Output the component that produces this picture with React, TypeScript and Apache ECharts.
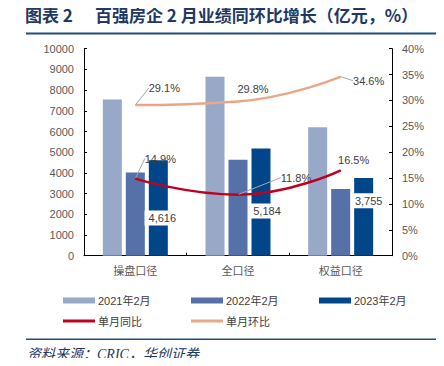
import React, { useEffect, useRef } from "react";
import * as echarts from "echarts";

const categories = ["操盘口径", "全口径", "权益口径"];
const sales2021 = [7550, 8650, 6200];
const sales2022 = [4017, 4637, 3223];
const sales2023 = [4616, 5184, 3755];
const yoy = [14.9, 11.8, 16.5];
const mom = [29.1, 29.8, 34.6];
const leftTicks = [0, 10000, 1000];
const rightTicks = [0, 40, 5];

const yoyLabelShift = [[25, -20], [58, -17], [13, -10]];
const yoyLeader = [true, true, false];
const momLabelShift = [[29, -17], [15, -12], [28, 4]];
const momLeader = [true, false, true];
const barLabelShift = [[4, 10], [6, 9], [5, -16]];

const C2021 = "#98A8C8";
const C2022 = "#5670A8";
const C2023 = "#02468A";
const CRED = "#C0001F";
const CPEACH = "#E8A888";
const NAVY = "#1F3864";

export default function App() {
  const ref = useRef<HTMLDivElement>(null);
  useEffect(() => {
    if (!ref.current) return;
    const chart = echarts.init(ref.current, undefined, { renderer: "svg" });
    const sans = "'Liberation Sans', Arial, sans-serif";
    const cjk = "'Noto Sans CJK SC', sans-serif";
    const legendBase = {
      orient: "horizontal",
      padding: 0,
      itemWidth: 32,
      itemGap: 0,
      textStyle: { fontSize: 11, color: "#404040", fontFamily: sans + ", 'Noto Sans CJK SC'", padding: [0, 0, 0, -2] },
      icon: "rect",
    };
    const lineLabel = {
      show: true,
      position: "inside",
      formatter: (p: any) => p.value.toFixed(1) + "%",
      fontSize: 11,
      color: "#404040",
      fontFamily: sans,
    };
    const titleFont = "bold 17px 'Noto Sans CJK SC', sans-serif";
    chart.setOption({
      animation: false,
      backgroundColor: "#fff",
      grid: { left: 84, right: 52, top: 48.7, bottom: 110.3, containLabel: false },
      graphic: [
        { type: "text", left: 25, top: 6, style: { text: "图表 2", font: titleFont, fill: NAVY } },
        { type: "text", left: 95, top: 6, style: { text: "百强房企 2 月业绩同环比增长（亿元，%）", font: titleFont, fill: NAVY } },
        { type: "rect", shape: { x: 26, y: 32.5, width: 412, height: 2 }, style: { fill: "#1F4E79" } },
        { type: "rect", shape: { x: 26, y: 338.5, width: 412, height: 1.5 }, style: { fill: "#1F4E79" } },
        {
          type: "text",
          left: 27,
          top: 347,
          style: {
            text: "资料来源：CRIC，华创证券",
            font: "italic 14px 'Liberation Serif', 'Noto Sans CJK SC', serif",
            fill: NAVY,
          },
        },
      ],
      legend: [
        { ...legendBase, left: 63, top: 295, itemHeight: 6, data: ["2021年2月"] },
        { ...legendBase, left: 191, top: 295, itemHeight: 6, data: ["2022年2月"] },
        { ...legendBase, left: 319, top: 295, itemHeight: 6, data: ["2023年2月"] },
        { ...legendBase, left: 63, top: 315.5, itemHeight: 3, data: ["单月同比"], textStyle: { ...legendBase.textStyle, fontFamily: cjk } },
        { ...legendBase, left: 191, top: 315.5, itemHeight: 3, data: ["单月环比"], textStyle: { ...legendBase.textStyle, fontFamily: cjk } },
      ],
      xAxis: {
        type: "category",
        data: categories,
        axisLine: { lineStyle: { color: "#000", width: 1 } },
        axisTick: { show: true, inside: true, length: 3, lineStyle: { color: "#000" } },
        axisLabel: { fontSize: 11, color: "#595959", fontFamily: cjk, margin: 9 },
      },
      yAxis: [
        {
          type: "value",
          min: leftTicks[0],
          max: leftTicks[1],
          interval: leftTicks[2],
          axisLine: { show: true, lineStyle: { color: "#000" } },
          axisTick: { show: true, inside: true, length: 3, lineStyle: { color: "#000" } },
          splitLine: { show: false },
          axisLabel: { fontSize: 11, color: "#595959", fontFamily: sans, margin: 10, formatter: (v: number) => String(v) },
        },
        {
          type: "value",
          min: rightTicks[0],
          max: rightTicks[1],
          interval: rightTicks[2],
          position: "right",
          axisLine: { show: true, lineStyle: { color: "#000" } },
          axisTick: { show: true, inside: true, length: 3, lineStyle: { color: "#000" } },
          splitLine: { show: false },
          axisLabel: { fontSize: 11, color: "#595959", fontFamily: sans, margin: 10, formatter: "{value}%" },
        },
      ],
      series: [
        { name: "2021年2月", type: "bar", data: sales2021, barWidth: 19, barGap: "21%", itemStyle: { color: C2021 } },
        { name: "2022年2月", type: "bar", data: sales2022, barWidth: 19, barGap: "21%", itemStyle: { color: C2022 } },
        {
          name: "2023年2月",
          type: "bar",
          data: sales2023,
          barWidth: 19,
          barGap: "21%",
          itemStyle: { color: C2023 },
          label: {
            show: true,
            position: "inside",
            formatter: (p: any) => p.value.toLocaleString("en-US"),
            fontSize: 11,
            color: "#404040",
            fontFamily: sans,
            backgroundColor: "#fff",
            padding: [2, 4],
          },
          labelLayout: (p: any) => ({ dx: barLabelShift[p.dataIndex][0], dy: barLabelShift[p.dataIndex][1] }),
          z: 3,
        },
        {
          name: "单月同比",
          type: "line",
          yAxisIndex: 1,
          smooth: true,
          symbol: "circle",
          symbolSize: 1,
          data: yoy.map((v, i) => ({ value: v, labelLine: { show: yoyLeader[i] } })),
          lineStyle: { color: CRED, width: 2.5 },
          itemStyle: { color: CRED },
          label: lineLabel,
          labelLine: { show: true, lineStyle: { color: "#A6A6A6", width: 1 } },
          labelLayout: (p: any) => ({ dx: yoyLabelShift[p.dataIndex][0], dy: yoyLabelShift[p.dataIndex][1] }),
          z: 5,
        },
        {
          name: "单月环比",
          type: "line",
          yAxisIndex: 1,
          smooth: true,
          symbol: "circle",
          symbolSize: 1,
          data: mom.map((v, i) => ({ value: v, labelLine: { show: momLeader[i] } })),
          lineStyle: { color: CPEACH, width: 2.5 },
          itemStyle: { color: CPEACH },
          label: lineLabel,
          labelLine: { show: true, lineStyle: { color: "#A6A6A6", width: 1 } },
          labelLayout: (p: any) => ({ dx: momLabelShift[p.dataIndex][0], dy: momLabelShift[p.dataIndex][1] }),
          z: 5,
        },
      ],
    });
    return () => chart.dispose();
  }, []);
  return <div ref={ref} style={{ width: 444, height: 366, margin: -8 }} />;
}
